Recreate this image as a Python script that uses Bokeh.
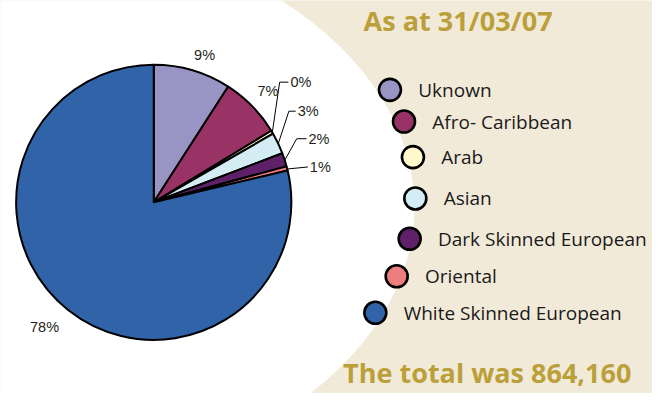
import numpy as np
from bokeh.plotting import figure
from bokeh.models import ColumnDataSource
from bokeh.core.properties import value
from bokeh.embed import file_html
from bokeh.resources import INLINE

# ---------------- data ----------------
categories = ["Uknown", "Afro- Caribbean", "Arab", "Asian",
              "Dark Skinned European", "Oriental", "White Skinned European"]
shares = [9.1, 7.2, 0.4, 2.5, 1.6, 0.5, 78.7]          # percent of 864,160
pct_labels = ["9%", "7%", "0%", "3%", "2%", "1%", "78%"]
colors = ["#9894C3", "#993366", "#FFF8CC", "#D4ECF3", "#5E2066", "#EE7D80", "#3063A8"]
title_text = "As at 31/03/07"
total_text = "The total was 864,160"

# ---------------- layout (reference pixel space, y downward) ----------------
W, H = 668, 409
CX, CY, R = 157, 210, 141
label_angle = [18.8, 45.2, 45.9, 55.6, 65.7, 76.9, 220.7]
label_rf = [1.146, 1.17, 1.274, 1.19, 1.14, 1.15, 1.217]
label_leader = [False, False, True, True, True, True, False]
label_hseg = [0, 0, 9, 7, 10, 0, 0]
LEG_Y = [93, 126, 163, 206, 248, 287, 325]
ARC_H, ARC_K, ARC_R = 205.6, 197.0, 219.6

BEIGE = "#F2EAD9"
GOLD = "#BBA03A"


def Y(y):
    return H - np.asarray(y, dtype=float)


p = figure(width=652, height=393, x_range=(0, W), y_range=(0, H),
           output_backend="svg", toolbar_location=None, min_border=0,
           background_fill_color=BEIGE, border_fill_color=BEIGE)
p.axis.visible = False
p.grid.visible = False
p.outline_line_color = None

# white ellipse background
p.ellipse(x=[-26], y=[Y(215)], width=900, height=600, fill_color="white", line_color=None)

# pie wedges (clockwise from 12 o'clock)
sh = np.array(shares, dtype=float)
cum = np.concatenate([[0], np.cumsum(sh)]) / sh.sum() * 360.0
start = np.radians(90 - cum[:-1])
end = np.radians(90 - cum[1:])
src = ColumnDataSource(dict(start=start, end=end, color=colors))
p.wedge(x=CX, y=Y(CY), radius=R, start_angle="start", end_angle="end",
        direction="clock", fill_color="color", line_color="black", line_width=2, source=src)

# labels
mid = (cum[:-1] + cum[1:]) / 2
cen_x, cen_y, cen_t = [], [], []
lf_x, lf_y, lf_t = [], [], []
lines_x, lines_y = [], []
for i, lab in enumerate(pct_labels):
    a = np.radians(label_angle[i])
    ex = CX + R * label_rf[i] * np.sin(a)
    ey = CY - R * label_rf[i] * np.cos(a)
    if label_leader[i]:
        m = np.radians(mid[i])
        sx = CX + R * np.sin(m)
        sy = CY - R * np.cos(m)
        hx = ex + label_hseg[i]
        lines_x.append([sx, ex, hx])
        lines_y.append(list(Y([sy, ey, ey])))
        lf_x.append(hx + 2)
        lf_y.append(float(Y(ey)))
        lf_t.append(lab)
    else:
        cen_x.append(ex)
        cen_y.append(float(Y(ey)))
        cen_t.append(lab)

p.multi_line(xs=lines_x, ys=lines_y, line_color="black", line_width=1)
p.text(x=cen_x, y=cen_y, text=cen_t, text_align="center", text_baseline="middle",
       text_font=value("Liberation Sans"), text_font_size="14.5px", text_color="#231F20")
p.text(x=lf_x, y=lf_y, text=lf_t, text_align="left", text_baseline="middle",
       text_font=value("Liberation Sans"), text_font_size="14.5px", text_color="#231F20")

# legend following an arc
ly = np.array(LEG_Y, dtype=float)
lx = ARC_H + np.sqrt(ARC_R ** 2 - (ly - ARC_K) ** 2)
p.scatter(x=lx, y=Y(ly), size=22, marker="circle", fill_color=colors,
          line_color="black", line_width=2.6)
p.text(x=lx + 29, y=Y(ly), text=categories, text_align="left", text_baseline="middle",
       text_font=value("Open Sans"), text_font_size="19px", text_color="#1A1A1A")

# title and total
p.text(x=[372], y=[Y(21)], text=[title_text], text_align="left", text_baseline="middle",
       text_font=value("Open Sans"), text_font_style="bold", text_font_size="27px", text_color=GOLD)
p.text(x=[351], y=[Y(387)], text=[total_text], text_align="left", text_baseline="middle",
       text_font=value("Open Sans"), text_font_style="bold", text_font_size="27px", text_color=GOLD)

open("out.html", "w").write(file_html(p, INLINE))
